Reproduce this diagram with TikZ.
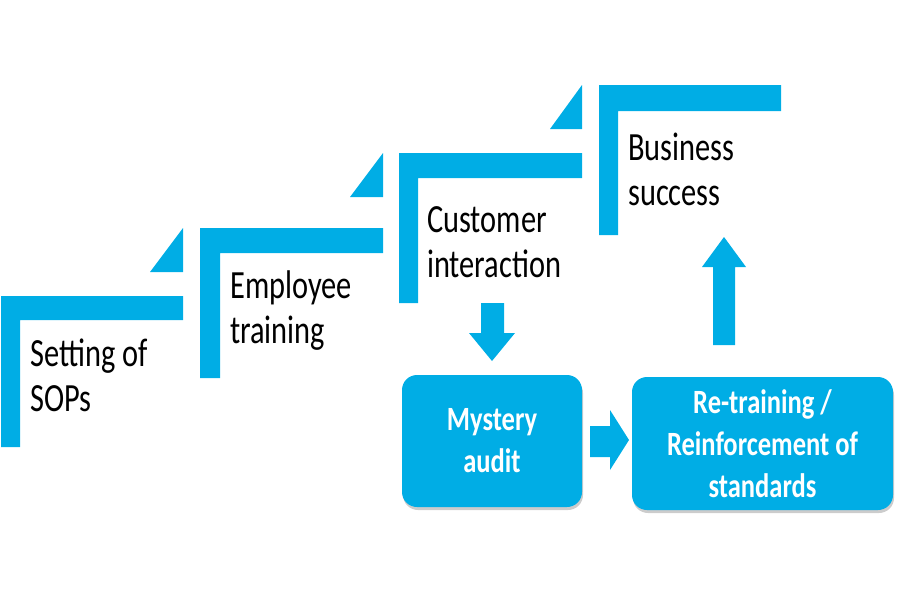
\documentclass[tikz,border=0pt]{standalone}
\usepackage{fontspec}
\usetikzlibrary{shadows}
\newfontfamily\stepfont[FakeStretch=0.76]{Carlito}
\newfontfamily\boxfont[FakeStretch=0.78]{Carlito}
\definecolor{stepblue}{RGB}{0,173,229}
\tikzset{
  stepshape/.style={fill=stepblue, draw=none},
  steplabel/.style={anchor=base west, inner sep=0pt, align=left,
    font=\stepfont\fontsize{40}{45}\selectfont, text=black},
  auditbox/.style={rectangle, rounded corners=15pt, fill=stepblue, draw=none,
    text=white, align=center, font=\boxfont\bfseries\fontsize{34}{42}\selectfont,
    drop shadow={shadow xshift=1pt, shadow yshift=-3pt, opacity=0.2, fill=black}},
  blockarrow/.style={fill=stepblue, draw=none}
}
\begin{document}
\begin{tikzpicture}[x=1pt,y=-1pt]
\useasboundingbox (0,0) rectangle (900,600);
% steps
\newcommand\stepL[6]{%
  \fill[stepshape] (#1,#3) -- (#5,#3) -- (#5,#4) -- (#2,#4) -- (#2,#6) -- (#1,#6) -- cycle;}
\stepL{1}{20}{296}{320}{183}{447}
\stepL{200}{220}{228}{253}{383}{378}
\stepL{399}{418}{153}{178}{582}{303}
\stepL{599}{618}{85}{111}{781}{235}
% triangles
\fill[stepshape] (150,272) -- (183,272) -- (183,228) -- cycle;
\fill[stepshape] (350,197) -- (383,197) -- (383,153) -- cycle;
\fill[stepshape] (550,129) -- (582,129) -- (582,85) -- cycle;
% labels (anchor at baseline of last line)
\node[steplabel] (sops) at (30,411) {Setting of\\SOPs};
\node[steplabel] (train) at (230,343) {Employee\\training};
\node[steplabel] (cust) at (427,277) {Customer\\interaction};
\node[steplabel] (biz) at (628,205) {Business\\success};
% boxes
\node[auditbox, minimum width=180pt, minimum height=132pt] (audit) at (492,441) {Mystery\\audit};
\node[auditbox, minimum width=261pt, minimum height=133pt] (retrain) at (762.5,443.5) {Re-training /\\Reinforcement of\\standards};
% block arrows
\fill[blockarrow] (481,303) -- (504,303) -- (504,333) -- (515,333) -- (492,361) -- (469,333) -- (481,333) -- cycle;
\fill[blockarrow] (590,426) -- (610,426) -- (610,410) -- (629,440) -- (610,470) -- (610,457) -- (590,457) -- cycle;
\fill[blockarrow] (713,345) -- (713,267) -- (702,267) -- (724,237) -- (746,267) -- (735,267) -- (735,345) -- cycle;
\end{tikzpicture}
\end{document}
